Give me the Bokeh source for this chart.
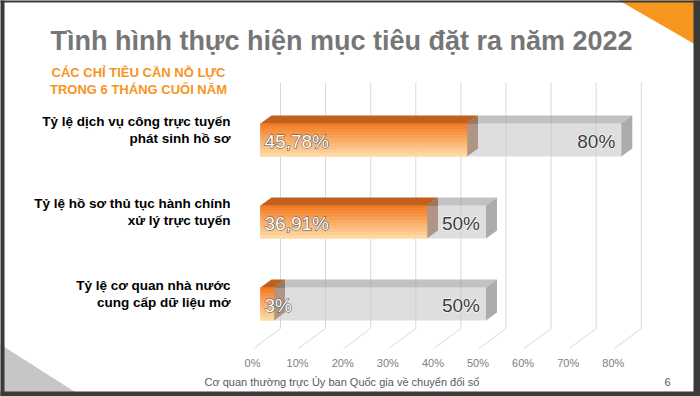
import numpy as np
from bokeh.plotting import figure
from bokeh.models import Range1d
from bokeh.embed import file_html
from bokeh.resources import INLINE
from bokeh.core.properties import value

# ---------------- data ----------------
title = "Tình hình thực hiện mục tiêu đặt ra năm 2022"
subtitle_lines = ["CÁC CHỈ TIÊU CẦN NỖ LỰC", "TRONG 6 THÁNG CUỐI NĂM"]
categories = [
    "Tỷ lệ dịch vụ công trực tuyến\nphát sinh hồ sơ",
    "Tỷ lệ hồ sơ thủ tục hành chính\nxử lý trực tuyến",
    "Tỷ lệ cơ quan nhà nước\ncung cấp dữ liệu mở",
]
achieved = [45.78, 36.91, 3.0]
achieved_labels = ["45,78%", "36,91%", "3%"]
targets = [80.0, 50.0, 50.0]
target_labels = ["80%", "50%", "50%"]
ticks = [0, 10, 20, 30, 40, 50, 60, 70, 80]
tick_labels = ["0%", "10%", "20%", "30%", "40%", "50%", "60%", "70%", "80%"]
footer = "Cơ quan thường trực Ủy ban Quốc gia về chuyển đổi số"
page_no = "6"

# ---------------- layout helpers (reference pixel -> data) ----------------
W, H = 700, 396
PX_PER = 4.51      # pixels per percent
X0 = 260.0         # pixel of 0 %
ROW0 = 139.5       # pixel of first row centre
ROW_STEP = 82.0    # pixels between rows

def X(px):
    return (px - X0) / PX_PER

def Y(py):
    return (py - ROW0) / ROW_STEP

def DX(d):
    return d / PX_PER

def DY(d):
    return d / ROW_STEP

FONT = value("Liberation Sans")

p = figure(width=W, height=H, output_backend="svg", toolbar_location=None,
           x_range=Range1d(X(0), X(W)), y_range=Range1d(Y(H), Y(0)),
           x_axis_location=None, y_axis_location=None, min_border=0,
           outline_line_color=None, background_fill_color="white",
           border_fill_color="white")
p.grid.visible = False

# slide decorations
p.patch([X(610), X(705), X(705)], [Y(-5), Y(-5), Y(50)], color="#F7961E", line_width=0)
p.patch([X(-5), X(-5), X(88)], [Y(341), Y(400), Y(400)], color="#C6C6C6", line_width=0)
# dark slide frame
p.quad(left=[X(-5), X(-5), X(693), X(-5)], right=[X(4), X(705), X(705), X(705)],
       top=[Y(-5), Y(-5), Y(-5), Y(391)], bottom=[Y(400), Y(2), Y(400), Y(400)],
       fill_color="#3A3A3A", line_color=None)

# titles
p.text(x=[X(341)], y=[Y(40)], text=[title], text_font=FONT, text_font_style="bold",
       text_font_size="27px", text_color="#767676", text_align="center",
       text_baseline="middle")
p.text(x=[X(138), X(138)], y=[Y(72), Y(89)], text=subtitle_lines, text_font=FONT,
       text_font_style="bold", text_font_size="13px", text_color="#F7941D",
       text_align="center", text_baseline="middle")

rows = np.arange(len(categories))
h = DY(16.5)
ddx, ddy = DX(11), DY(-8)

# gridlines on back wall + floor
back = DX(20)
for t in ticks:
    p.line([t + back, t + back], [Y(82), Y(328)], line_color="#D9D9D9", line_width=1)
    p.line([t + back, t + DX(-7)], [Y(328), Y(348)], line_color="#D9D9D9", line_width=1)

p.text(x=[t + DX(-8) for t in ticks], y=[Y(362)] * len(ticks), text=tick_labels,
       text_font=FONT, text_font_size="11px", text_color="#808080",
       text_align="center", text_baseline="middle")

# category labels (two lines each, right aligned)
l1 = [c.split("\n")[0] for c in categories]
l2 = [c.split("\n")[1] for c in categories]
p.text(x=[X(230)] * 3, y=rows - DY(19), text=l1, text_font=FONT, text_font_style="bold",
       text_font_size="13.5px", text_color="#000000", text_align="right",
       text_baseline="middle")
p.text(x=[X(230)] * 3, y=rows - DY(1.5), text=l2, text_font=FONT, text_font_style="bold",
       text_font_size="13.5px", text_color="#000000", text_align="right",
       text_baseline="middle")

# orange side faces (seen through translucent grey)
p.patches([[v, v + ddx, v + ddx, v] for v in achieved],
          [[r - h, r - h + ddy, r + h + ddy, r + h] for r in rows],
          fill_color="#8A4A20", line_color=None)

# grey target bars (from achieved end to target)
p.quad(left=achieved, right=targets, top=rows - h, bottom=rows + h,
       fill_color="#C8C8C8", fill_alpha=0.6, line_color=None)
p.patches([[v, T, T + ddx, v + ddx] for v, T in zip(achieved, targets)],
          [[r - h, r - h, r - h + ddy, r - h + ddy] for r in rows],
          fill_color="#9A9A9A", fill_alpha=0.6, line_color=None)
p.patches([[T, T + ddx, T + ddx, T] for T in targets],
          [[r - h, r - h + ddy, r + h + ddy, r + h] for r in rows],
          fill_color="#7F7F7F", fill_alpha=0.65, line_color=None)

# orange front faces with a vertical gradient
N = 22
c_top = np.array([0xF4, 0x79, 0x20])
c_bot = np.array([0xFF, 0xDA, 0xA6])
L, R, TP, BT, CL = [], [], [], [], []
for r, v in zip(rows, achieved):
    for k in range(N):
        f = k / (N - 1)
        c = (c_top * (1 - f) + c_bot * f).astype(int)
        L.append(0); R.append(v)
        TP.append(r - h + 2 * h * k / N); BT.append(r - h + 2 * h * (k + 1) / N)
        CL.append("#%02x%02x%02x" % tuple(c))
p.quad(left=L, right=R, top=TP, bottom=BT, fill_color=CL, line_color=CL, line_width=0.6)

# orange top faces
p.patches([[0, v, v + ddx, ddx] for v in achieved],
          [[r - h, r - h, r - h + ddy, r - h + ddy] for r in rows],
          fill_color="#C0601C", line_color=None)

# value labels: outline pass, then fill pass
ax = [DX(4)] * 3
p.text(x=ax, y=rows + DY(1), text=achieved_labels, text_font=FONT,
       text_font_size="19px", text_color="#505050", text_outline_color="#505050",
       text_align="left", text_baseline="middle")
p.text(x=ax, y=rows + DY(1), text=achieved_labels, text_font=FONT,
       text_font_size="19px", text_color="white",
       text_align="left", text_baseline="middle")
tx = [T - DX(6) for T in targets]
p.text(x=tx, y=rows + DY(1), text=target_labels, text_font=FONT,
       text_font_size="19px", text_color="#FFFFFF", text_outline_color="#FFFFFF",
       text_align="right", text_baseline="middle")
p.text(x=tx, y=rows + DY(1), text=target_labels, text_font=FONT,
       text_font_size="19px", text_color="#3A3A3A",
       text_align="right", text_baseline="middle")

# footer
p.text(x=[X(204)], y=[Y(381)], text=[footer], text_font=FONT, text_font_size="11px",
       text_color="#595959", text_align="left", text_baseline="middle")
p.text(x=[X(667)], y=[Y(381)], text=[page_no], text_font=FONT, text_font_size="11px",
       text_color="#595959", text_align="center", text_baseline="middle")

open("out.html", "w").write(file_html(p, INLINE))
